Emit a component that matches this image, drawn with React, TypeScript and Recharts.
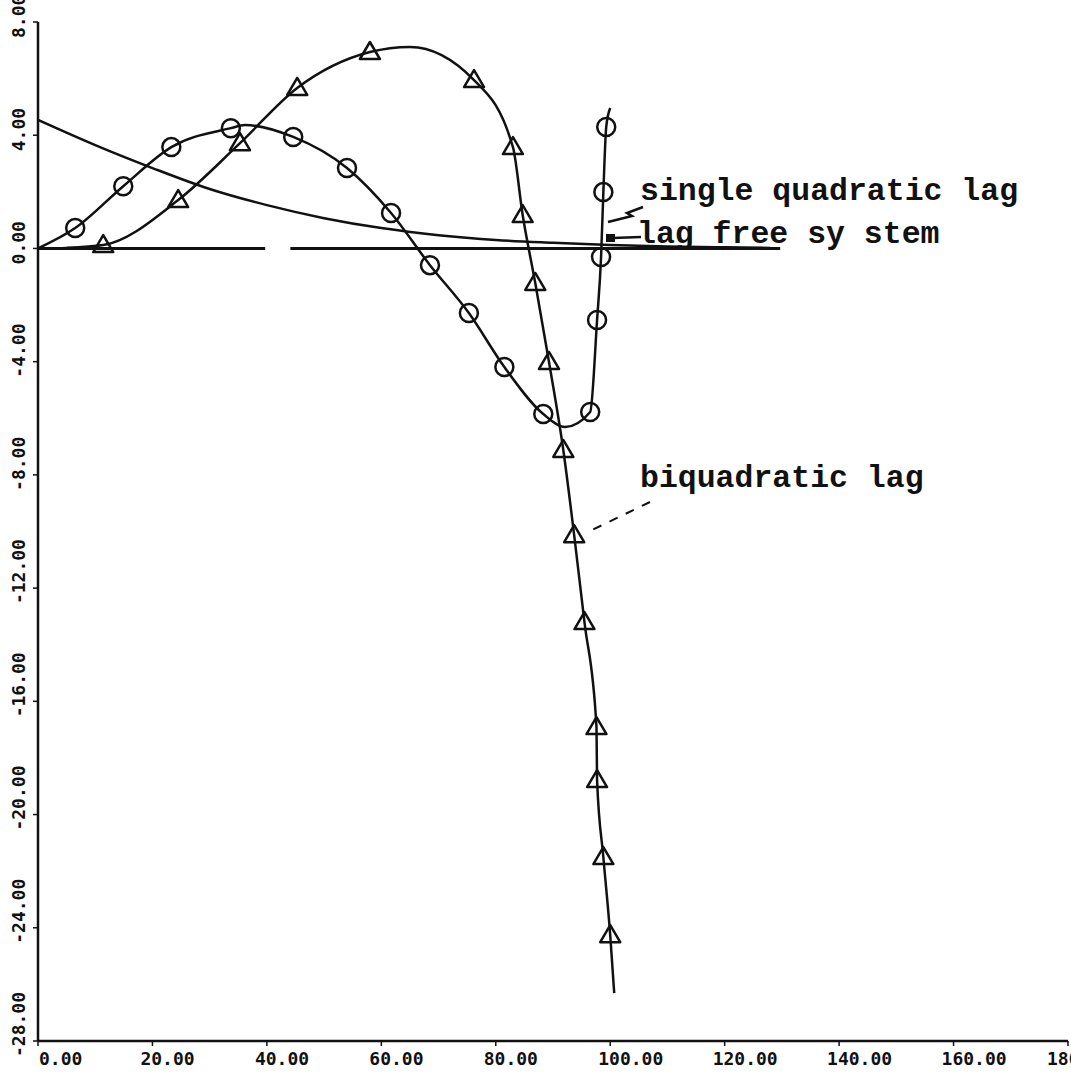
import { LineChart, Line, XAxis, YAxis } from 'recharts';

const xTicks = [0, 20, 40, 60, 80, 100, 120, 140, 160, 180];
const yTicks = [-28, -24, -20, -16, -12, -8, -4, 0, 4, 8];

// single quadratic lag (circles), mark = 1 where a circle sits on the curve
const quadX = [0, 6.5, 14.9, 23.3, 33.7, 36.2, 44.6, 54.0, 61.7, 68.5, 75.3, 81.5, 88.3, 92.1, 96.5, 97.7, 98.4, 98.8, 99.3, 100.0];
const quadY = [0, 0.72, 2.2, 3.58, 4.25, 4.36, 3.94, 2.84, 1.25, -0.59, -2.28, -4.19, -5.85, -6.31, -5.78, -2.53, -0.3, 1.99, 4.29, 4.96];
const quadMark = [0, 1, 1, 1, 1, 0, 1, 1, 1, 1, 1, 1, 1, 0, 1, 1, 1, 1, 1, 0];

// biquadratic lag (triangles)
const biqX = [0, 5, 11.4, 24.5, 35.3, 45.3, 58.0, 65.0, 76.2, 83.0, 84.7, 86.9, 89.3, 91.8, 93.7, 95.5, 97.6, 97.7, 98.8, 100.0, 100.7];
const biqY = [0, 0.02, 0.12, 1.71, 3.72, 5.67, 6.94, 7.12, 5.95, 3.58, 1.18, -1.22, -4.01, -7.12, -10.13, -13.2, -16.91, -18.78, -21.5, -24.26, -26.31];
const biqMark = [0, 0, 1, 1, 1, 1, 1, 0, 1, 1, 1, 1, 1, 1, 1, 1, 1, 1, 1, 1, 0];

// lag free system (decaying curve, no markers)
const freeX = [0, 10, 20, 30, 40, 50, 60, 70, 80, 90, 100, 110, 120, 128];
const freeY = [4.54, 3.65, 2.84, 2.1, 1.53, 1.07, 0.72, 0.47, 0.3, 0.2, 0.12, 0.07, 0.04, 0.02];

// zero line with its small gap
const zeroX = [0, 39.7, 41.9, 44.1, 129.7];
const zeroY: (number | null)[] = [0, 0, null, 0, 0];

const build = (xs: number[], ys: (number | null)[], marks?: number[]) =>
  xs.map((x, i) => ({ x, y: ys[i], m: marks ? marks[i] : 0 }));

const quadData = build(quadX, quadY, quadMark);
const biqData = build(biqX, biqY, biqMark);
const freeData = build(freeX, freeY);
const zeroData = build(zeroX, zeroY);

const INK = '#111';
const tickFont = { fontFamily: '"DejaVu Sans Mono", monospace', fontWeight: 700, fontSize: 18 };
const noteFont = { fontFamily: '"Liberation Mono", "Courier New", monospace', fontWeight: 700, fontSize: 31.5 };

const CircleDot = (p: any) =>
  p.payload.m ? (
    <circle key={`c-${p.index}`} cx={p.cx} cy={p.cy} r={9} fill="none" stroke={INK} strokeWidth={2.5} />
  ) : (
    <g key={`c-${p.index}`} />
  );

const TriDot = (p: any) =>
  p.payload.m ? (
    <polygon
      key={`t-${p.index}`}
      points={`${p.cx},${p.cy - 10} ${p.cx - 10},${p.cy + 7} ${p.cx + 10},${p.cy + 7}`}
      fill="none"
      stroke={INK}
      strokeWidth={2.5}
      strokeLinejoin="round"
    />
  ) : (
    <g key={`t-${p.index}`} />
  );

const XTick = (p: any) => {
  const v = p.payload.value as number;
  return (
    <text x={v === 0 ? p.x + 1 : p.x - 12} y={p.y + 17} fill={INK} {...tickFont}>
      {v.toFixed(2)}
    </text>
  );
};

const YTick = (p: any) => {
  const v = p.payload.value as number;
  return (
    <text transform={`translate(25,${p.y + 16}) rotate(-90)`} textAnchor="start" fill={INK} {...tickFont}>
      {v.toFixed(2)}
    </text>
  );
};

export default function App() {
  return (
    <div style={{ position: 'absolute', left: 0, top: 0, width: 1071, height: 1075, background: '#fff' }}>
      <LineChart width={1071} height={1075} margin={{ top: 22, right: 3, left: 0, bottom: 0 }}>
        <XAxis
          dataKey="x"
          type="number"
          domain={[0, 180]}
          ticks={xTicks}
          height={34}
          tick={<XTick />}
          tickSize={5}
          axisLine={{ stroke: INK, strokeWidth: 2.5 }}
          tickLine={{ stroke: INK, strokeWidth: 1.5 }}
          allowDataOverflow
        />
        <YAxis
          type="number"
          domain={[-28, 8]}
          ticks={yTicks}
          width={38}
          tick={<YTick />}
          tickSize={5}
          axisLine={{ stroke: INK, strokeWidth: 2.5 }}
          tickLine={{ stroke: INK, strokeWidth: 1.5 }}
          allowDataOverflow
        />
        <Line data={zeroData} dataKey="y" type="linear" stroke={INK} strokeWidth={3} dot={false} isAnimationActive={false} />
        <Line data={freeData} dataKey="y" type="monotone" stroke={INK} strokeWidth={2.5} dot={false} isAnimationActive={false} />
        <Line data={quadData} dataKey="y" type="monotone" stroke={INK} strokeWidth={2.5} dot={CircleDot} isAnimationActive={false} />
        <Line data={biqData} dataKey="y" type="monotone" stroke={INK} strokeWidth={2.5} dot={TriDot} isAnimationActive={false} />
      </LineChart>
      <svg width={1071} height={1075} style={{ position: 'absolute', left: 0, top: 0, pointerEvents: 'none' }}>
        <text x={640} y={200} fill={INK} {...noteFont}>single quadratic lag</text>
        <polyline points="643,207 627,213 632,216 608,222" fill="none" stroke={INK} strokeWidth={2.5} />
        <text x={637} y={243} fill={INK} {...noteFont}>lag free sy stem</text>
        <line x1={612} y1={238} x2={641} y2={237} stroke={INK} strokeWidth={2.5} />
        <rect x={606} y={234} width={9} height={8} fill={INK} />
        <text x={640} y={487} fill={INK} {...noteFont}>biquadratic lag</text>
        <line x1={650} y1={502} x2={588} y2={532} stroke={INK} strokeWidth={2} strokeDasharray="9 9" />
      </svg>
    </div>
  );
}
